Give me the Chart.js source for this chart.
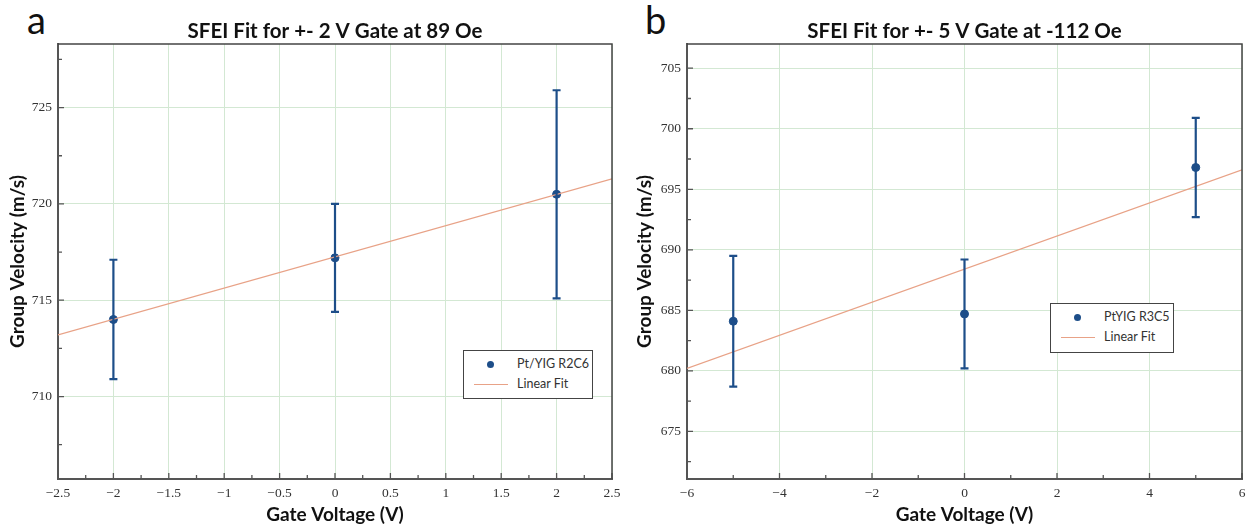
<!DOCTYPE html>
<html>
<head>
<meta charset="utf-8">
<script src="https://cdn.jsdelivr.net/npm/chart.js@4.4.1/dist/chart.umd.min.js"></script>
<style>
  body { margin: 0; background: #fff; }
  #wrap { position: relative; width: 1255px; height: 529px; overflow: hidden; font-family: Lato, "Open Sans", sans-serif; }
  .panel { position: absolute; top: 0; height: 529px; }
  .letter { position: absolute; top: 0px; font-size: 38px; line-height: 38px; color: #111; }
  .legend { position: absolute; border: 1px solid #444; background: #fff; font-size: 12.5px; color: #333; }
  .legend .dot { position: absolute; width: 7px; height: 7px; border-radius: 50%; background: #1d4e89; }
  .legend .ln { position: absolute; width: 34px; height: 0; border-top: 1.2px solid #e8a287; }
  .legend .tx { position: absolute; line-height: 16px; }
</style>
</head>
<body>
<div id="wrap">
  <div class="letter" style="left:27px">a</div>
  <div class="letter" style="left:645px">b</div>
  <div class="panel" style="left:0;width:627px"><canvas id="chartA"></canvas></div>
  <div class="panel" style="left:627px;width:628px"><canvas id="chartB"></canvas></div>
</div>
<script>
// ---- panel a data ----
const voltsA = [-2, 0, 2];
const velA = [714.0, 717.2, 720.5];
const errA = [3.1, 2.8, 5.4];
const fitXA = [-2.5, 2.5];
const fitYA = [713.2, 721.3];
const xMajorA = [-2.5, -2, -1.5, -1, -0.5, 0, 0.5, 1, 1.5, 2, 2.5];
const xLabelsA = ['\u22122.5', '\u22122', '\u22121.5', '\u22121', '\u22120.5', '0', '0.5', '1', '1.5', '2', '2.5'];
const xMinorA = [-2.25, -1.75, -1.25, -0.75, -0.25, 0.25, 0.75, 1.25, 1.75, 2.25];
const yMajorA = [710, 715, 720, 725];
const yLabelsA = ['710', '715', '720', '725'];
const yMinorA = [707.5, 712.5, 717.5, 722.5, 727.5];

// ---- panel b data ----
const voltsB = [-5, 0, 5];
const velB = [684.1, 684.7, 696.8];
const errB = [5.4, 4.5, 4.1];
const fitXB = [-6, 6];
const fitYB = [680.2, 696.6];
const xMajorB = [-6, -4, -2, 0, 2, 4, 6];
const xLabelsB = ['\u22126', '\u22124', '\u22122', '0', '2', '4', '6'];
const xMinorB = [-5, -3, -1, 1, 3, 5];
const yMajorB = [675, 680, 685, 690, 695, 700, 705];
const yLabelsB = ['675', '680', '685', '690', '695', '700', '705'];
const yMinorB = [672.5, 677.5, 682.5, 687.5, 692.5, 697.5, 702.5];

const pointColor = '#1d4e89';
const fitColor = '#e8a287';
const gridColor = '#d3e8d3';
const tickFont = "'Liberation Serif', 'DejaVu Serif', serif";

// error bars, inner ticks and frame
const decor = {
  id: 'decor',
  afterDatasetsDraw(chart, args, opts) {
    const { ctx, chartArea: a } = chart;
    const xs = chart.scales.x, ys = chart.scales.y;
    ctx.save();
    // error bars
    ctx.strokeStyle = pointColor;
    ctx.lineWidth = 2.2;
    opts.x.forEach((xv, i) => {
      const px = xs.getPixelForValue(xv);
      const top = ys.getPixelForValue(opts.y[i] + opts.err[i]);
      const bot = ys.getPixelForValue(opts.y[i] - opts.err[i]);
      ctx.beginPath();
      ctx.moveTo(px, top); ctx.lineTo(px, bot);
      ctx.moveTo(px - 4, top); ctx.lineTo(px + 4, top);
      ctx.moveTo(px - 4, bot); ctx.lineTo(px + 4, bot);
      ctx.stroke();
    });
    // inward ticks
    ctx.strokeStyle = '#555';
    ctx.lineWidth = 1.3;
    ctx.beginPath();
    xs.ticks.forEach(t => {
      const px = xs.getPixelForValue(t.value);
      const len = opts.xMajor.includes(t.value) ? 6 : 4;
      ctx.moveTo(px, a.bottom); ctx.lineTo(px, a.bottom - len);
    });
    ys.ticks.forEach(t => {
      const py = ys.getPixelForValue(t.value);
      const len = opts.yMajor.includes(t.value) ? 6 : 4;
      ctx.moveTo(a.left, py); ctx.lineTo(a.left + len, py);
    });
    ctx.stroke();
    // top and right frame
    ctx.strokeStyle = '#444';
    ctx.lineWidth = 1.5;
    ctx.beginPath();
    ctx.moveTo(a.left, a.top); ctx.lineTo(a.right, a.top); ctx.lineTo(a.right, a.bottom);
    ctx.stroke();
    ctx.restore();
  }
};

function makeChart(id, cfg) {
  const allX = cfg.xMajor.concat(cfg.xMinor).sort((p, q) => p - q);
  const allY = cfg.yMajor.concat(cfg.yMinor).sort((p, q) => p - q);
  return new Chart(document.getElementById(id), {
    type: 'scatter',
    data: {
      datasets: [{
        type: 'line',
        label: 'Linear Fit',
        data: cfg.fitX.map((x, i) => ({ x: x, y: cfg.fitY[i] })),
        borderColor: fitColor,
        borderWidth: 1.2,
        pointRadius: 0,
        fill: false
      }, {
        label: cfg.series,
        data: cfg.x.map((x, i) => ({ x: x, y: cfg.y[i] })),
        backgroundColor: pointColor,
        borderColor: pointColor,
        pointRadius: 4
      }]
    },
    options: {
      responsive: false,
      animation: false,
      layout: { padding: { left: 0, right: cfg.padRight, top: 0, bottom: 0 } },
      plugins: {
        legend: { display: false },
        tooltip: { enabled: false },
        title: {
          display: true,
          text: cfg.title,
          fullSize: false,
          color: '#111',
          font: { family: 'Lato', size: 20.5, weight: 'bold' },
          padding: { top: 19, bottom: 0.4 }
        },
        decor: { x: cfg.x, y: cfg.y, err: cfg.err, xMajor: cfg.xMajor, yMajor: cfg.yMajor }
      },
      scales: {
        x: {
          type: 'linear',
          min: cfg.xMajor[0],
          max: cfg.xMajor[cfg.xMajor.length - 1],
          afterBuildTicks: s => { s.ticks = allX.map(v => ({ value: v })); },
          afterFit: s => { s.height = 50; },
          grid: {
            drawTicks: false,
            color: c => (c.tick && cfg.xMajor.includes(c.tick.value)) ? gridColor : 'rgba(0,0,0,0)'
          },
          border: { color: '#555', width: 2 },
          ticks: {
            autoSkip: false,
            maxRotation: 0,
            padding: 6,
            color: '#333',
            font: { family: tickFont, size: 13.5 },
            callback: v => { const i = cfg.xMajor.indexOf(v); return i >= 0 ? cfg.xLabels[i] : ''; }
          },
          title: {
            display: true,
            text: 'Gate Voltage (V)',
            color: '#111',
            font: { family: 'Lato', size: 19, weight: 'bold' },
            padding: { top: 4, bottom: 3 }
          }
        },
        y: {
          type: 'linear',
          min: cfg.yMin,
          max: cfg.yMax,
          afterBuildTicks: s => { s.ticks = allY.map(v => ({ value: v })); },
          afterFit: s => { s.width = cfg.yWidth; },
          grid: {
            drawTicks: false,
            color: c => (c.tick && cfg.yMajor.includes(c.tick.value)) ? gridColor : 'rgba(0,0,0,0)'
          },
          border: { color: '#555', width: 2 },
          ticks: {
            autoSkip: false,
            padding: 6,
            color: '#333',
            font: { family: tickFont, size: 13.5 },
            callback: v => { const i = cfg.yMajor.indexOf(v); return i >= 0 ? cfg.yLabels[i] : ''; }
          },
          title: {
            display: true,
            text: 'Group Velocity (m/s)',
            color: '#111',
            font: { family: 'Lato', size: 19, weight: 'bold' },
            padding: { top: 6, bottom: 4 }
          }
        }
      }
    },
    plugins: [decor]
  });
}

function addLegend(left, top, w, h, series) {
  const box = document.createElement('div');
  box.className = 'legend';
  box.style.cssText = `left:${left}px;top:${top}px;width:${w}px;height:${h}px`;
  box.innerHTML =
    `<div class="dot" style="left:23px;top:10px"></div>` +
    `<div class="tx" style="left:53px;top:5px">${series}</div>` +
    `<div class="ln" style="left:10px;top:33px"></div>` +
    `<div class="tx" style="left:53px;top:25px">Linear Fit</div>`;
  document.getElementById('wrap').appendChild(box);
}

const canvasA = document.getElementById('chartA');
canvasA.width = 627; canvasA.height = 529;
const canvasB = document.getElementById('chartB');
canvasB.width = 628; canvasB.height = 529;

makeChart('chartA', {
  title: 'SFEI Fit for +- 2 V Gate at 89 Oe',
  series: 'Pt/YIG R2C6',
  x: voltsA, y: velA, err: errA, fitX: fitXA, fitY: fitYA,
  xMajor: xMajorA, xLabels: xLabelsA, xMinor: xMinorA,
  yMajor: yMajorA, yLabels: yLabelsA, yMinor: yMinorA,
  yMin: 705.72, yMax: 728.3, yWidth: 58, padRight: 15
});
makeChart('chartB', {
  title: 'SFEI Fit for +- 5 V Gate at -112 Oe',
  series: 'PtYIG R3C5',
  x: voltsB, y: velB, err: errB, fitX: fitXB, fitY: fitYB,
  xMajor: xMajorB, xLabels: xLabelsB, xMinor: xMinorB,
  yMajor: yMajorB, yLabels: yLabelsB, yMinor: yMinorB,
  yMin: 671.07, yMax: 707.0, yWidth: 60, padRight: 13
});

addLegend(463, 350, 128, 47, 'Pt/YIG R2C6');
addLegend(1050, 303, 122, 48, 'PtYIG R3C5');
</script>
</body>
</html>
